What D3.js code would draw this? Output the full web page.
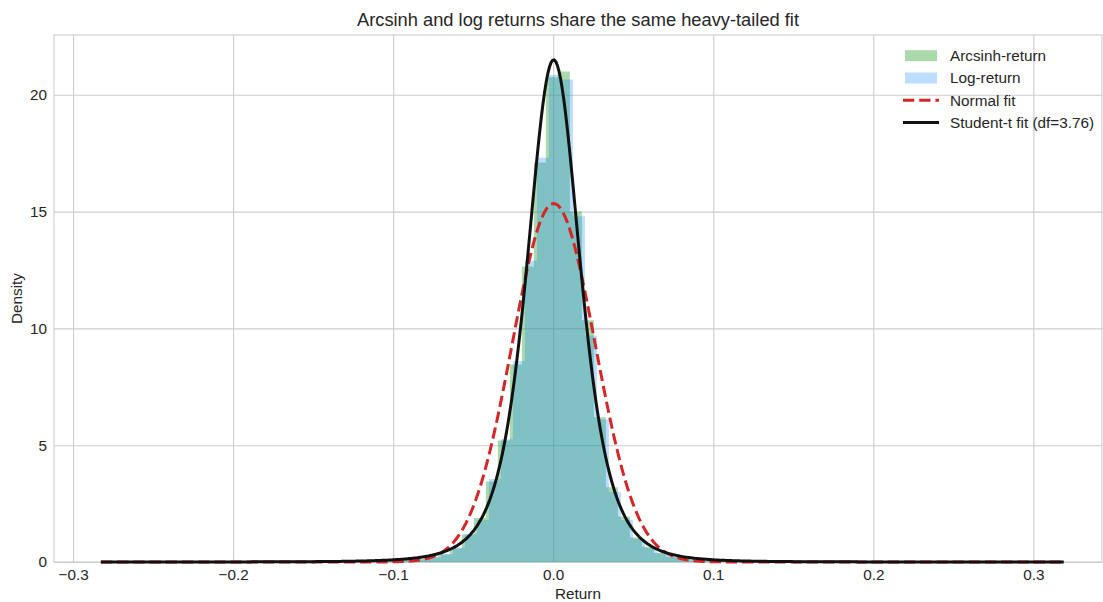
<!DOCTYPE html>
<html>
<head>
<meta charset="utf-8">
<script src="https://cdn.jsdelivr.net/npm/d3@7"></script>
<style>
    body { margin: 0; background: #fff; }
    text { font-family: "Liberation Sans", Arial, sans-serif; fill: #262626; }
</style>
</head>
<body>
<div id="chart"></div>
<script>

// histogram bins (density)
var binWidth = 0.0075;
var arcsinhStart = -0.11706;
var arcsinhDensity = [ 0.02, 0.03, 0.05, 0.08, 0.12, 0.2, 0.32, 0.58, 1.18, 1.88, 3.45, 5.2, 8.45, 12.65, 17.1,
    20.75, 21.0, 15.0, 10.35, 6.2, 3.2, 1.95, 1.05, 0.65, 0.38, 0.22, 0.13, 0.08, 0.05, 0.03, 0.02 ];
var logStart = -0.11519;
var logDensity = [ 0.02, 0.03, 0.05, 0.08, 0.12, 0.19, 0.34, 0.62, 1.2, 1.8, 3.55, 5.25, 8.6, 12.9, 17.3,
    20.85, 20.65, 14.8, 9.7, 6.1, 3.0, 1.8, 1.0, 0.6, 0.36, 0.2, 0.12, 0.08, 0.05, 0.03, 0.02 ];

// fitted parameters
var returnRange = [ -0.2826, 0.319 ];
var normalFit = [ 0.0003, 0.026 ];          // mu, sigma
var studentFit = [ 3.76, 0.0003, 0.017374 ]; // df, loc, scale

var xTicks = [ -0.3, -0.2, -0.1, 0, 0.1, 0.2, 0.3 ];
var yTicks = [ 0, 5, 10, 15, 20 ];
var legendLabels = [ 'Arcsinh-return', 'Log-return', 'Normal fit', 'Student-t fit (df=3.76)' ];

var width = 1103,
    height = 602,
    plotLeft = 54,
    plotRight = 1102,
    plotTop = 35,
    plotBottom = 562;

var x = d3.scaleLinear().domain([ -0.3119, 0.3429 ]).range([ plotLeft, plotRight ]);
var y = d3.scaleLinear().domain([ 0, 22.56 ]).range([ plotBottom, plotTop ]);

var svg = d3.select('#chart').append('svg')
    .attr('width', width)
    .attr('height', height);

// grid + ticks
var gx = svg.append('g')
    .attr('transform', 'translate(0,' + plotBottom + ')')
    .call( d3.axisBottom( x ).tickValues( xTicks ).tickFormat( d3.format('.1f') )
        .tickSize( -( plotBottom - plotTop ) ).tickPadding( 7 ) );

var gy = svg.append('g')
    .attr('transform', 'translate(' + plotLeft + ',0)')
    .call( d3.axisLeft( y ).tickValues( yTicks ).tickFormat( d3.format('d') )
        .tickSize( -( plotRight - plotLeft ) ).tickPadding( 7 ) );

[ gx, gy ].forEach( function ( g ) {
    g.select('.domain').remove();
    g.selectAll('line').attr('stroke', '#cccccc').attr('stroke-width', 1.1);
    g.selectAll('text')
        .style('font-size', '15.3px')
        .style('font-family', '"Liberation Sans", Arial, sans-serif')
        .attr('fill', '#262626');
});

svg.append('rect')
    .attr('x', plotLeft)
    .attr('y', plotTop)
    .attr('width', plotRight - plotLeft)
    .attr('height', plotBottom - plotTop)
    .attr('fill', 'none')
    .attr('stroke', '#cccccc')
    .attr('stroke-width', 1.1);

// histograms as step areas
function binPoints ( start, dens ) {

    var pts = dens.map( function ( d, i ) { return [ start + i * binWidth, d ]; } );
    pts.unshift([ start, 0 ]);
    pts.push([ start + dens.length * binWidth, 0 ]);
    return pts;

}

var area = d3.area()
    .x( function ( d ) { return x( d[0] ); } )
    .y0( y( 0 ) )
    .y1( function ( d ) { return y( d[1] ); } )
    .curve( d3.curveStepAfter );

svg.append('path')
    .attr('d', area( binPoints( arcsinhStart, arcsinhDensity ) ))
    .attr('fill', '#2ca02c')
    .attr('fill-opacity', 0.4);

svg.append('path')
    .attr('d', area( binPoints( logStart, logDensity ) ))
    .attr('fill', '#1e90ff')
    .attr('fill-opacity', 0.3);

// fitted pdfs
function lgamma ( z ) {

    var c = [ 0.99999999999980993, 676.5203681218851, -1259.1392167224028, 771.32342877765313,
        -176.61502916214059, 12.507343278686905, -0.13857109526572012, 9.9843695780195716e-6, 1.5056327351493116e-7 ];
    z -= 1;
    var s = c[0];
    for ( var i = 1; i < 9; i++ ) s += c[i] / ( z + i );
    var t = z + 7.5;
    return 0.5 * Math.log( 2 * Math.PI ) + ( z + 0.5 ) * Math.log( t ) - t + Math.log( s );

}

function normalPdf ( v ) {
    var z = ( v - normalFit[0] ) / normalFit[1];
    return Math.exp( -0.5 * z * z ) / ( normalFit[1] * Math.sqrt( 2 * Math.PI ) );
}

function studentPdf ( v ) {
    var nu = studentFit[0], z = ( v - studentFit[1] ) / studentFit[2];
    var c = Math.exp( lgamma( ( nu + 1 ) / 2 ) - lgamma( nu / 2 ) ) / Math.sqrt( nu * Math.PI );
    return c * Math.pow( 1 + z * z / nu, -( nu + 1 ) / 2 ) / studentFit[2];
}

var grid = d3.range( 600 ).map( function ( i ) {
    return returnRange[0] + ( returnRange[1] - returnRange[0] ) * i / 599;
});

var line = d3.line()
    .x( function ( d ) { return x( d[0] ); } )
    .y( function ( d ) { return y( d[1] ); } );

svg.append('path')
    .attr('d', line( grid.map( function ( v ) { return [ v, normalPdf( v ) ]; } ) ))
    .attr('fill', 'none')
    .attr('stroke', '#d62728')
    .attr('stroke-width', 3)
    .attr('stroke-dasharray', '11.3,4.9');

svg.append('path')
    .attr('d', line( grid.map( function ( v ) { return [ v, studentPdf( v ) ]; } ) ))
    .attr('fill', 'none')
    .attr('stroke', '#111111')
    .attr('stroke-width', 3);

// legend
var legend = svg.append('g').attr('transform', 'translate(903,0)');

legendLabels.forEach( function ( label, i ) {

    var cy = 55.7 + i * 22.3;

    if ( i === 0 ) {
        legend.append('rect').attr('x', 2).attr('y', cy - 5.5).attr('width', 32).attr('height', 11)
            .attr('fill', '#2ca02c').attr('fill-opacity', 0.4);
    } else if ( i === 1 ) {
        legend.append('rect').attr('x', 2).attr('y', cy - 5.5).attr('width', 32).attr('height', 11)
            .attr('fill', '#1e90ff').attr('fill-opacity', 0.3);
    } else {
        legend.append('line').attr('x1', 0).attr('x2', 36).attr('y1', cy).attr('y2', cy)
            .attr('stroke', i === 2 ? '#d62728' : '#111111')
            .attr('stroke-width', 3)
            .attr('stroke-dasharray', i === 2 ? '11.3,4.9' : null);
    }

    legend.append('text')
        .attr('x', 47)
        .attr('y', cy)
        .attr('dy', '0.35em')
        .style('font-size', '15.3px')
        .text( label );

});

// titles
svg.append('text')
    .attr('x', ( plotLeft + plotRight ) / 2)
    .attr('y', 26)
    .attr('text-anchor', 'middle')
    .style('font-size', '18.3px')
    .text('Arcsinh and log returns share the same heavy-tailed fit');

svg.append('text')
    .attr('x', ( plotLeft + plotRight ) / 2)
    .attr('y', 599)
    .attr('text-anchor', 'middle')
    .style('font-size', '15.3px')
    .text('Return');

svg.append('text')
    .attr('transform', 'translate(22,' + ( plotTop + plotBottom ) / 2 + ') rotate(-90)')
    .attr('text-anchor', 'middle')
    .style('font-size', '15.3px')
    .text('Density');

</script>
</body>
</html>
